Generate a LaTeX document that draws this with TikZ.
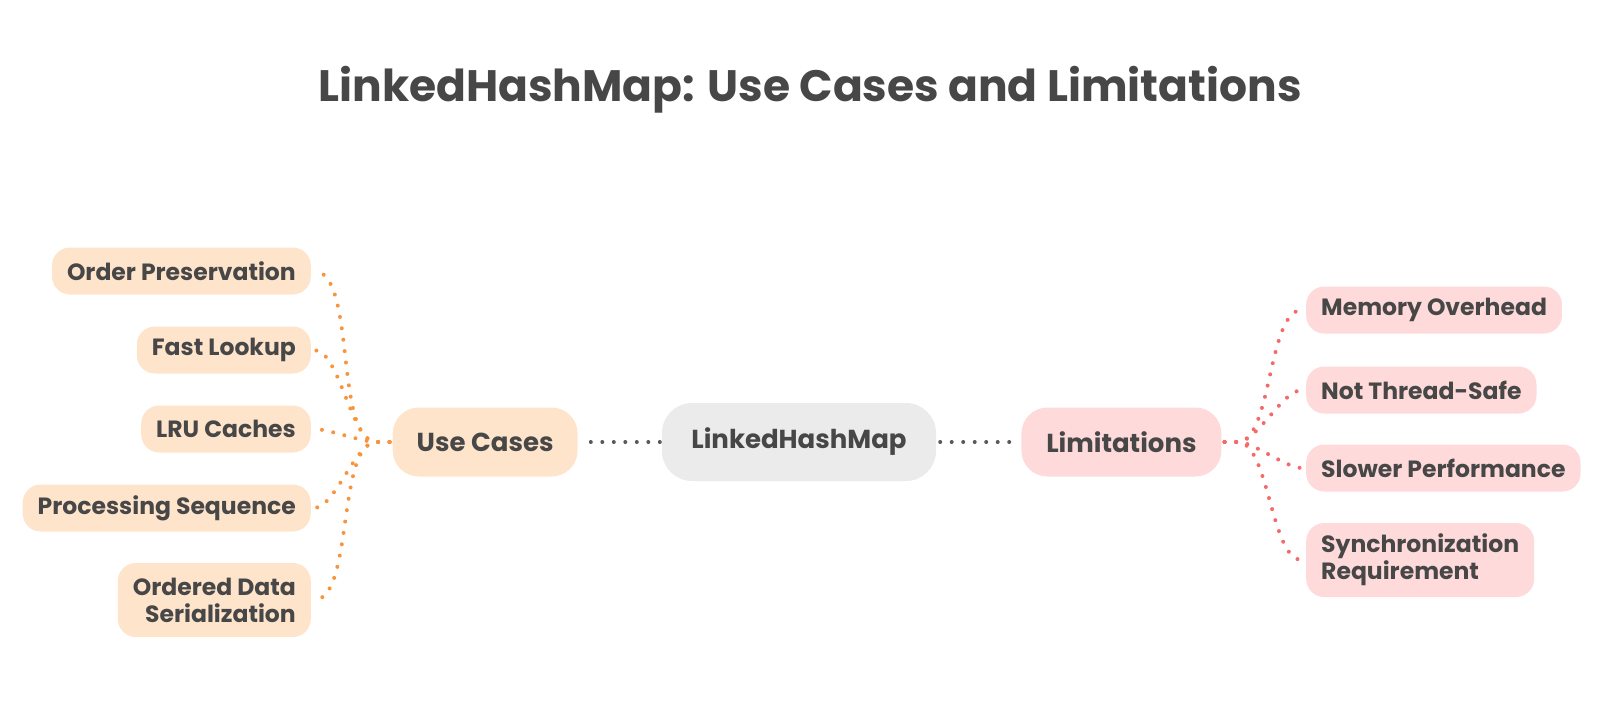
\documentclass[tikz,border=0pt]{standalone}
\usepackage{fontspec}
\setmainfont{Poppins}
\usetikzlibrary{positioning}

\definecolor{ink}{HTML}{474747}
\definecolor{hubfill}{HTML}{EBEBEB}
\definecolor{usefill}{HTML}{FFE4CC}
\definecolor{limfill}{HTML}{FFDADA}
\definecolor{usedot}{HTML}{F7953F}
\definecolor{limdot}{HTML}{F36A6A}

\begin{document}
\begin{tikzpicture}[
            x=1pt, y=-1pt,
            font=\bfseries, text=ink,
            hub/.style={rectangle, fill=hubfill, rounded corners=30pt, minimum width=274pt, minimum height=78pt, font=\fontsize{26}{30}\selectfont\bfseries},
            branch/.style={rectangle, rounded corners=26pt, minimum height=69pt, inner xsep=24pt, font=\fontsize{26}{30}\selectfont\bfseries},
            leaf/.style={rectangle, rounded corners=18pt, minimum height=47pt, inner xsep=15pt, font=\fontsize{23.5}{27}\selectfont\bfseries},
            useleaf/.style={leaf, fill=usefill, anchor=east, align=right},
            limleaf/.style={leaf, fill=limfill, anchor=west, align=left},
            twolines/.style={minimum height=74pt},
            dots/.style={line width=4pt, line cap=round, dash pattern=on 0pt off 11.5pt},
            useline/.style={dots, draw=usedot},
            limline/.style={dots, draw=limdot}
        ]
        \useasboundingbox (0,0) rectangle (1616,718);

        % Title
        \node[font=\fontsize{44}{52}\selectfont\bfseries] (title) at (810,90) {LinkedHashMap: Use Cases and Limitations};

        % Nodes
        \node[hub] (hub) at (799,442) {LinkedHashMap};
        \node[branch, fill=usefill, minimum width=183pt, left=84pt of hub] (uses) {Use Cases};
        \node[branch, fill=limfill, minimum width=200pt, right=85pt of hub] (limits) {Limitations};

        % Use cases
        \node[useleaf] (order) at (311,271) {Order Preservation};
        \node[useleaf] (lookup) at (311,350) {Fast Lookup};
        \node[useleaf] (lru) at (311,429) {LRU Caches};
        \node[useleaf] (sequence) at (311,508) {Processing Sequence};
        \node[useleaf, twolines] (serial) at (311,600) {Ordered Data\\Serialization};

        % Limitations
        \node[limleaf] (memory) at (1306,310) {Memory Overhead};
        \node[limleaf] (thread) at (1306,390) {Not Thread-Safe};
        \node[limleaf] (slower) at (1306,468) {Slower Performance};
        \node[limleaf, twolines] (sync) at (1306,560) {Synchronization\\Requirement};

        % Connections
        \draw[dots, draw=ink!90, shorten <=13pt, shorten >=2pt] (uses.east) -- (hub.west);
        \draw[dots, draw=ink!90, shorten <=4pt, shorten >=11pt] (hub.east) -- (limits.west);
        \foreach \leaf in {order, lookup, lru, sequence, serial}
            \draw[useline] ([xshift=-3pt]uses.west) -- ++(-13,0) to[out=180, in=0, looseness=0.6] ([xshift=3pt]\leaf.east);
        \foreach \leaf in {memory, thread, slower, sync}
            \draw[limline] ([xshift=3pt]limits.east) -- ++(13,0) to[out=0, in=180, looseness=0.6] ([xshift=-4pt]\leaf.west);

        \end{tikzpicture}
\end{document}
